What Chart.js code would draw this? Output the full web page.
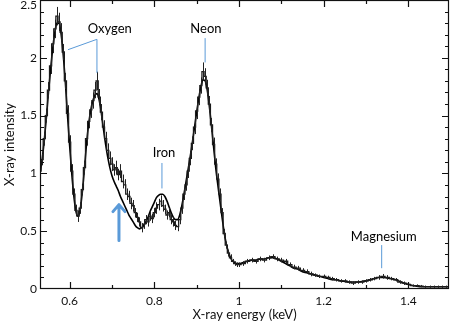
<!DOCTYPE html>
<html>
<head>
<meta charset="utf-8">
<script src="https://cdn.jsdelivr.net/npm/chart.js@4"></script>
<style>
  html, body { margin: 0; padding: 0; background: #fff; }
</style>
</head>
<body>
<canvas id="spectrum" width="450" height="324"></canvas>
<script>
// bin centres (keV)
const energy = [
  0.530,0.535,0.540,0.545,0.550,0.555,0.560,0.565,0.570,0.575,0.580,0.585,0.590,0.595,0.600,0.605,0.610,0.615,
  0.620,0.625,0.630,0.635,0.640,0.645,0.650,0.655,0.660,0.665,0.670,0.675,0.680,0.685,0.690,0.695,
  0.700,0.705,0.710,0.715,0.720,0.725,0.730,0.735,0.740,0.745,0.750,0.755,0.760,0.765,0.770,0.775,
  0.780,0.785,0.790,0.795,0.800,0.805,0.810,0.815,0.820,0.825,0.830,0.835,0.840,0.845,0.850,0.855,
  0.860,0.865,0.870,0.875,0.880,0.885,0.890,0.895,0.900,0.905,0.910,0.915,0.920,0.925,0.930,0.935,
  0.940,0.945,0.950,0.955,0.960,0.965,0.970,0.975,0.980,0.985,0.990,0.995,
  1.00,1.01,1.02,1.03,1.04,1.05,1.06,1.07,1.08,1.09,
  1.10,1.11,1.12,1.13,1.14,1.15,1.16,1.17,1.18,1.19,
  1.20,1.21,1.22,1.23,1.24,1.25,1.26,1.27,1.28,1.29,
  1.30,1.31,1.32,1.33,1.34,1.35,1.36,1.37,1.38,1.39,
  1.40,1.41,1.42,1.43,1.44,1.45,1.46,1.47,1.48,1.49,
  1.50
];

// observed spectrum
const counts = [
  1.02,1.12,1.30,1.50,1.72,1.93,2.12,2.25,2.36,2.31,2.22,2.05,1.80,1.52,1.27,1.02,0.82,0.68,
  0.63,0.70,0.86,1.05,1.30,1.45,1.55,1.63,1.72,1.80,1.66,1.53,1.40,1.30,1.20,1.13,
  1.08,1.03,1.05,0.99,1.02,0.93,0.90,0.82,0.80,0.74,0.72,0.66,0.62,0.58,0.53,0.56,
  0.60,0.58,0.63,0.61,0.66,0.70,0.73,0.76,0.72,0.69,0.64,0.66,0.60,0.58,0.55,0.54,
  0.60,0.70,0.82,0.90,1.02,1.13,1.26,1.40,1.54,1.66,1.76,1.88,1.84,1.74,1.60,1.42,
  1.25,1.08,0.95,0.82,0.66,0.48,0.38,0.31,0.27,0.24,0.22,0.21,
  0.21,0.22,0.24,0.25,0.24,0.26,0.25,0.27,0.28,0.26,
  0.25,0.24,0.21,0.19,0.18,0.16,0.15,0.13,0.12,0.11,
  0.11,0.10,0.09,0.08,0.07,0.07,0.06,0.05,0.06,0.06,
  0.07,0.08,0.09,0.10,0.11,0.10,0.09,0.08,0.06,0.05,
  0.04,0.03,0.03,0.025,0.02,0.02,0.02,0.02,0.02,0.02,
  0.02
];

// 1-sigma error on each bin
const errors = [
  0.05,0.05,0.06,0.06,0.07,0.07,0.08,0.08,0.08,0.08,0.08,0.07,0.07,0.07,0.06,0.06,0.05,0.05,
  0.05,0.05,0.05,0.06,0.06,0.06,0.07,0.07,0.07,0.08,0.07,0.07,0.06,0.06,0.06,0.06,
  0.06,0.05,0.06,0.05,0.06,0.06,0.05,0.05,0.05,0.05,0.05,0.04,0.04,0.04,0.04,0.04,
  0.04,0.04,0.04,0.04,0.04,0.05,0.05,0.05,0.05,0.04,0.04,0.04,0.04,0.04,0.04,0.04,
  0.04,0.05,0.05,0.05,0.06,0.06,0.06,0.06,0.07,0.07,0.07,0.08,0.07,0.07,0.07,0.06,
  0.06,0.05,0.05,0.05,0.04,0.04,0.03,0.03,0.03,0.02,0.02,0.02,
  0.02,0.02,0.02,0.02,0.02,0.02,0.02,0.02,0.02,0.02,
  0.02,0.02,0.02,0.02,0.02,0.02,0.02,0.02,0.015,0.015,
  0.015,0.015,0.015,0.015,0.015,0.015,0.015,0.015,0.015,0.015,
  0.015,0.015,0.015,0.02,0.02,0.02,0.015,0.015,0.015,0.015,
  0.01,0.01,0.01,0.01,0.01,0.01,0.01,0.01,0.01,0.01,
  0.01
];

// fitted model
const model = [
  1.00,1.12,1.28,1.48,1.70,1.90,2.08,2.22,2.30,2.30,2.20,2.02,1.78,1.50,1.24,1.00,0.80,0.67,
  0.63,0.69,0.84,1.04,1.26,1.43,1.55,1.63,1.68,1.69,1.63,1.52,1.38,1.25,1.14,1.05,
  0.98,0.93,0.89,0.85,0.80,0.76,0.72,0.68,0.64,0.61,0.58,0.55,0.53,0.52,0.53,0.55,
  0.58,0.62,0.67,0.71,0.75,0.79,0.81,0.82,0.82,0.80,0.76,0.71,0.66,0.62,0.60,0.60,
  0.64,0.72,0.82,0.93,1.04,1.15,1.27,1.40,1.53,1.65,1.75,1.81,1.80,1.72,1.58,1.41,
  1.23,1.05,0.90,0.76,0.62,0.49,0.39,0.32,0.27,0.24,0.23,0.22,
  0.22,0.23,0.24,0.25,0.25,0.26,0.26,0.27,0.27,0.26,
  0.24,0.22,0.20,0.18,0.17,0.15,0.14,0.13,0.12,0.11,
  0.10,0.09,0.08,0.08,0.07,0.065,0.06,0.06,0.06,0.065,
  0.07,0.08,0.09,0.10,0.10,0.095,0.09,0.08,0.065,0.05,
  0.04,0.03,0.025,0.02,0.02,0.02,0.02,0.02,0.02,0.02,
  0.02
];

const xTicks = [0.6, 0.8, 1.0, 1.2, 1.4];
const yTicks = [0, 0.5, 1, 1.5, 2, 2.5];
const xMin = 0.53, xMax = 1.496;
const yMin = 0, yMax = 2.5;

const FONT = 'Lato, "DejaVu Sans", sans-serif';
const BLUE = '#5a9ad8';

// element labels with leader lines, in data units
const callouts = [
  { text: 'Oxygen', at: [0.695, 2.25], path: [[0.596, 2.07], [0.6645, 2.16], [0.6645, 1.87]] },
  { text: 'Neon', at: [0.922, 2.25], path: [[0.920, 2.17], [0.920, 1.96]] },
  { text: 'Iron', at: [0.823, 1.175], path: [[0.818, 1.09], [0.818, 0.87]] },
  { text: 'Magnesium', at: [1.342, 0.455], path: [[1.337, 0.38], [1.337, 0.18]] }
];
const arrow = { x: 0.7165, from: 0.42, to: 0.73 };

const fmt = v => String(Math.round(v * 10) / 10);

const errorBars = {
  id: 'errorBars',
  afterDatasetsDraw(chart) {
    const { ctx, scales: { x, y } } = chart;
    ctx.save();
    ctx.strokeStyle = '#222';
    ctx.lineWidth = 1;
    ctx.beginPath();
    energy.forEach((e, i) => {
      if (e > xMax) return;
      const px = Math.round(x.getPixelForValue(e)) + 0.5;
      ctx.moveTo(px, y.getPixelForValue(counts[i] - errors[i]));
      ctx.lineTo(px, y.getPixelForValue(counts[i] + errors[i]));
    });
    ctx.stroke();
    ctx.restore();
  }
};

const frameTicks = {
  id: 'frameTicks',
  afterDraw(chart) {
    const { ctx, chartArea: a, scales: { x, y } } = chart;
    ctx.save();
    ctx.strokeStyle = '#111';
    ctx.lineWidth = 1.2;
    ctx.strokeRect(a.left + 0.5, a.top + 0.5, a.right - a.left - 1, a.bottom - a.top - 1);
    ctx.beginPath();
    for (let k = 6; k <= 14; k++) {
      const px = Math.round(x.getPixelForValue(k / 10)) + 0.5;
      const len = k % 2 === 0 ? 7 : 4;
      ctx.moveTo(px, a.bottom); ctx.lineTo(px, a.bottom - len);
      ctx.moveTo(px, a.top); ctx.lineTo(px, a.top + len);
    }
    for (let k = 1; k < 25; k++) {
      const py = Math.round(y.getPixelForValue(k / 10)) + 0.5;
      const len = k % 5 === 0 ? 7 : 4;
      ctx.moveTo(a.left, py); ctx.lineTo(a.left + len, py);
      ctx.moveTo(a.right, py); ctx.lineTo(a.right - len, py);
    }
    ctx.stroke();

    // top y label sits just inside the canvas
    ctx.fillStyle = '#111';
    ctx.font = '12px ' + FONT;
    ctx.textAlign = 'right';
    ctx.textBaseline = 'middle';
    ctx.fillText(fmt(yMax), a.left - 3, a.top + 5);

    // callouts
    ctx.strokeStyle = BLUE;
    ctx.lineWidth = 1;
    ctx.fillStyle = '#000';
    ctx.font = '13px ' + FONT;
    ctx.textAlign = 'center';
    callouts.forEach(c => {
      ctx.fillText(c.text, x.getPixelForValue(c.at[0]), y.getPixelForValue(c.at[1]));
      ctx.beginPath();
      c.path.forEach((p, i) => {
        const px = x.getPixelForValue(p[0]), py = y.getPixelForValue(p[1]);
        if (i === 0) ctx.moveTo(px, py); else ctx.lineTo(px, py);
      });
      ctx.stroke();
    });

    // arrow
    const ax = x.getPixelForValue(arrow.x);
    const y0 = y.getPixelForValue(arrow.from), y1 = y.getPixelForValue(arrow.to);
    ctx.strokeStyle = BLUE;
    ctx.lineWidth = 3;
    ctx.lineCap = 'round';
    ctx.lineJoin = 'round';
    ctx.beginPath();
    ctx.moveTo(ax, y0); ctx.lineTo(ax, y1 + 1);
    ctx.moveTo(ax - 6, y1 + 7); ctx.lineTo(ax, y1); ctx.lineTo(ax + 6, y1 + 7);
    ctx.stroke();
    ctx.restore();
  }
};

new Chart(document.getElementById('spectrum'), {
  type: 'line',
  data: {
    datasets: [
      {
        label: 'Data',
        data: energy.map((e, i) => ({ x: e, y: counts[i] })),
        borderColor: '#1a1a1a',
        borderWidth: 1.3,
        stepped: 'middle',
        pointRadius: 0,
        fill: false
      },
      {
        label: 'Model',
        data: energy.map((e, i) => ({ x: e, y: model[i] })),
        borderColor: '#000',
        borderWidth: 1.6,
        tension: 0.4,
        cubicInterpolationMode: 'monotone',
        pointRadius: 0,
        fill: false
      }
    ]
  },
  options: {
    responsive: false,
    animation: false,
    layout: { padding: { top: 0, right: 1, left: 0, bottom: 0 } },
    plugins: { legend: { display: false }, tooltip: { enabled: false } },
    scales: {
      x: {
        type: 'linear',
        min: xMin,
        max: xMax,
        grid: { display: false, drawTicks: false },
        border: { display: false },
        afterBuildTicks: s => { s.ticks = xTicks.map(v => ({ value: v })); },
        afterFit: s => { s.height = 35; s.paddingLeft = 0; s.paddingRight = 0; },
        ticks: {
          padding: 5,
          color: '#111',
          font: { family: FONT, size: 12 },
          maxRotation: 0,
          callback: v => fmt(v)
        },
        title: {
          display: true,
          text: 'X-ray energy (keV)',
          color: '#111',
          font: { family: FONT, size: 13 },
          padding: { top: 0, bottom: 1 }
        }
      },
      y: {
        min: yMin,
        max: yMax,
        grid: { display: false, drawTicks: false },
        border: { display: false },
        afterBuildTicks: s => { s.ticks = yTicks.map(v => ({ value: v })); },
        afterFit: s => { s.width = 40; s.paddingTop = 0; s.paddingBottom = 0; },
        ticks: {
          padding: 3,
          color: '#111',
          font: { family: FONT, size: 12 },
          // the top label is placed by the frame plugin so it is not clipped
          callback: v => (v === yMax ? '' : fmt(v))
        },
        title: {
          display: true,
          text: 'X-ray intensity',
          color: '#111',
          font: { family: FONT, size: 13 },
          padding: { top: 2, bottom: 0 }
        }
      }
    }
  },
  plugins: [errorBars, frameTicks]
});
</script>
</body>
</html>
